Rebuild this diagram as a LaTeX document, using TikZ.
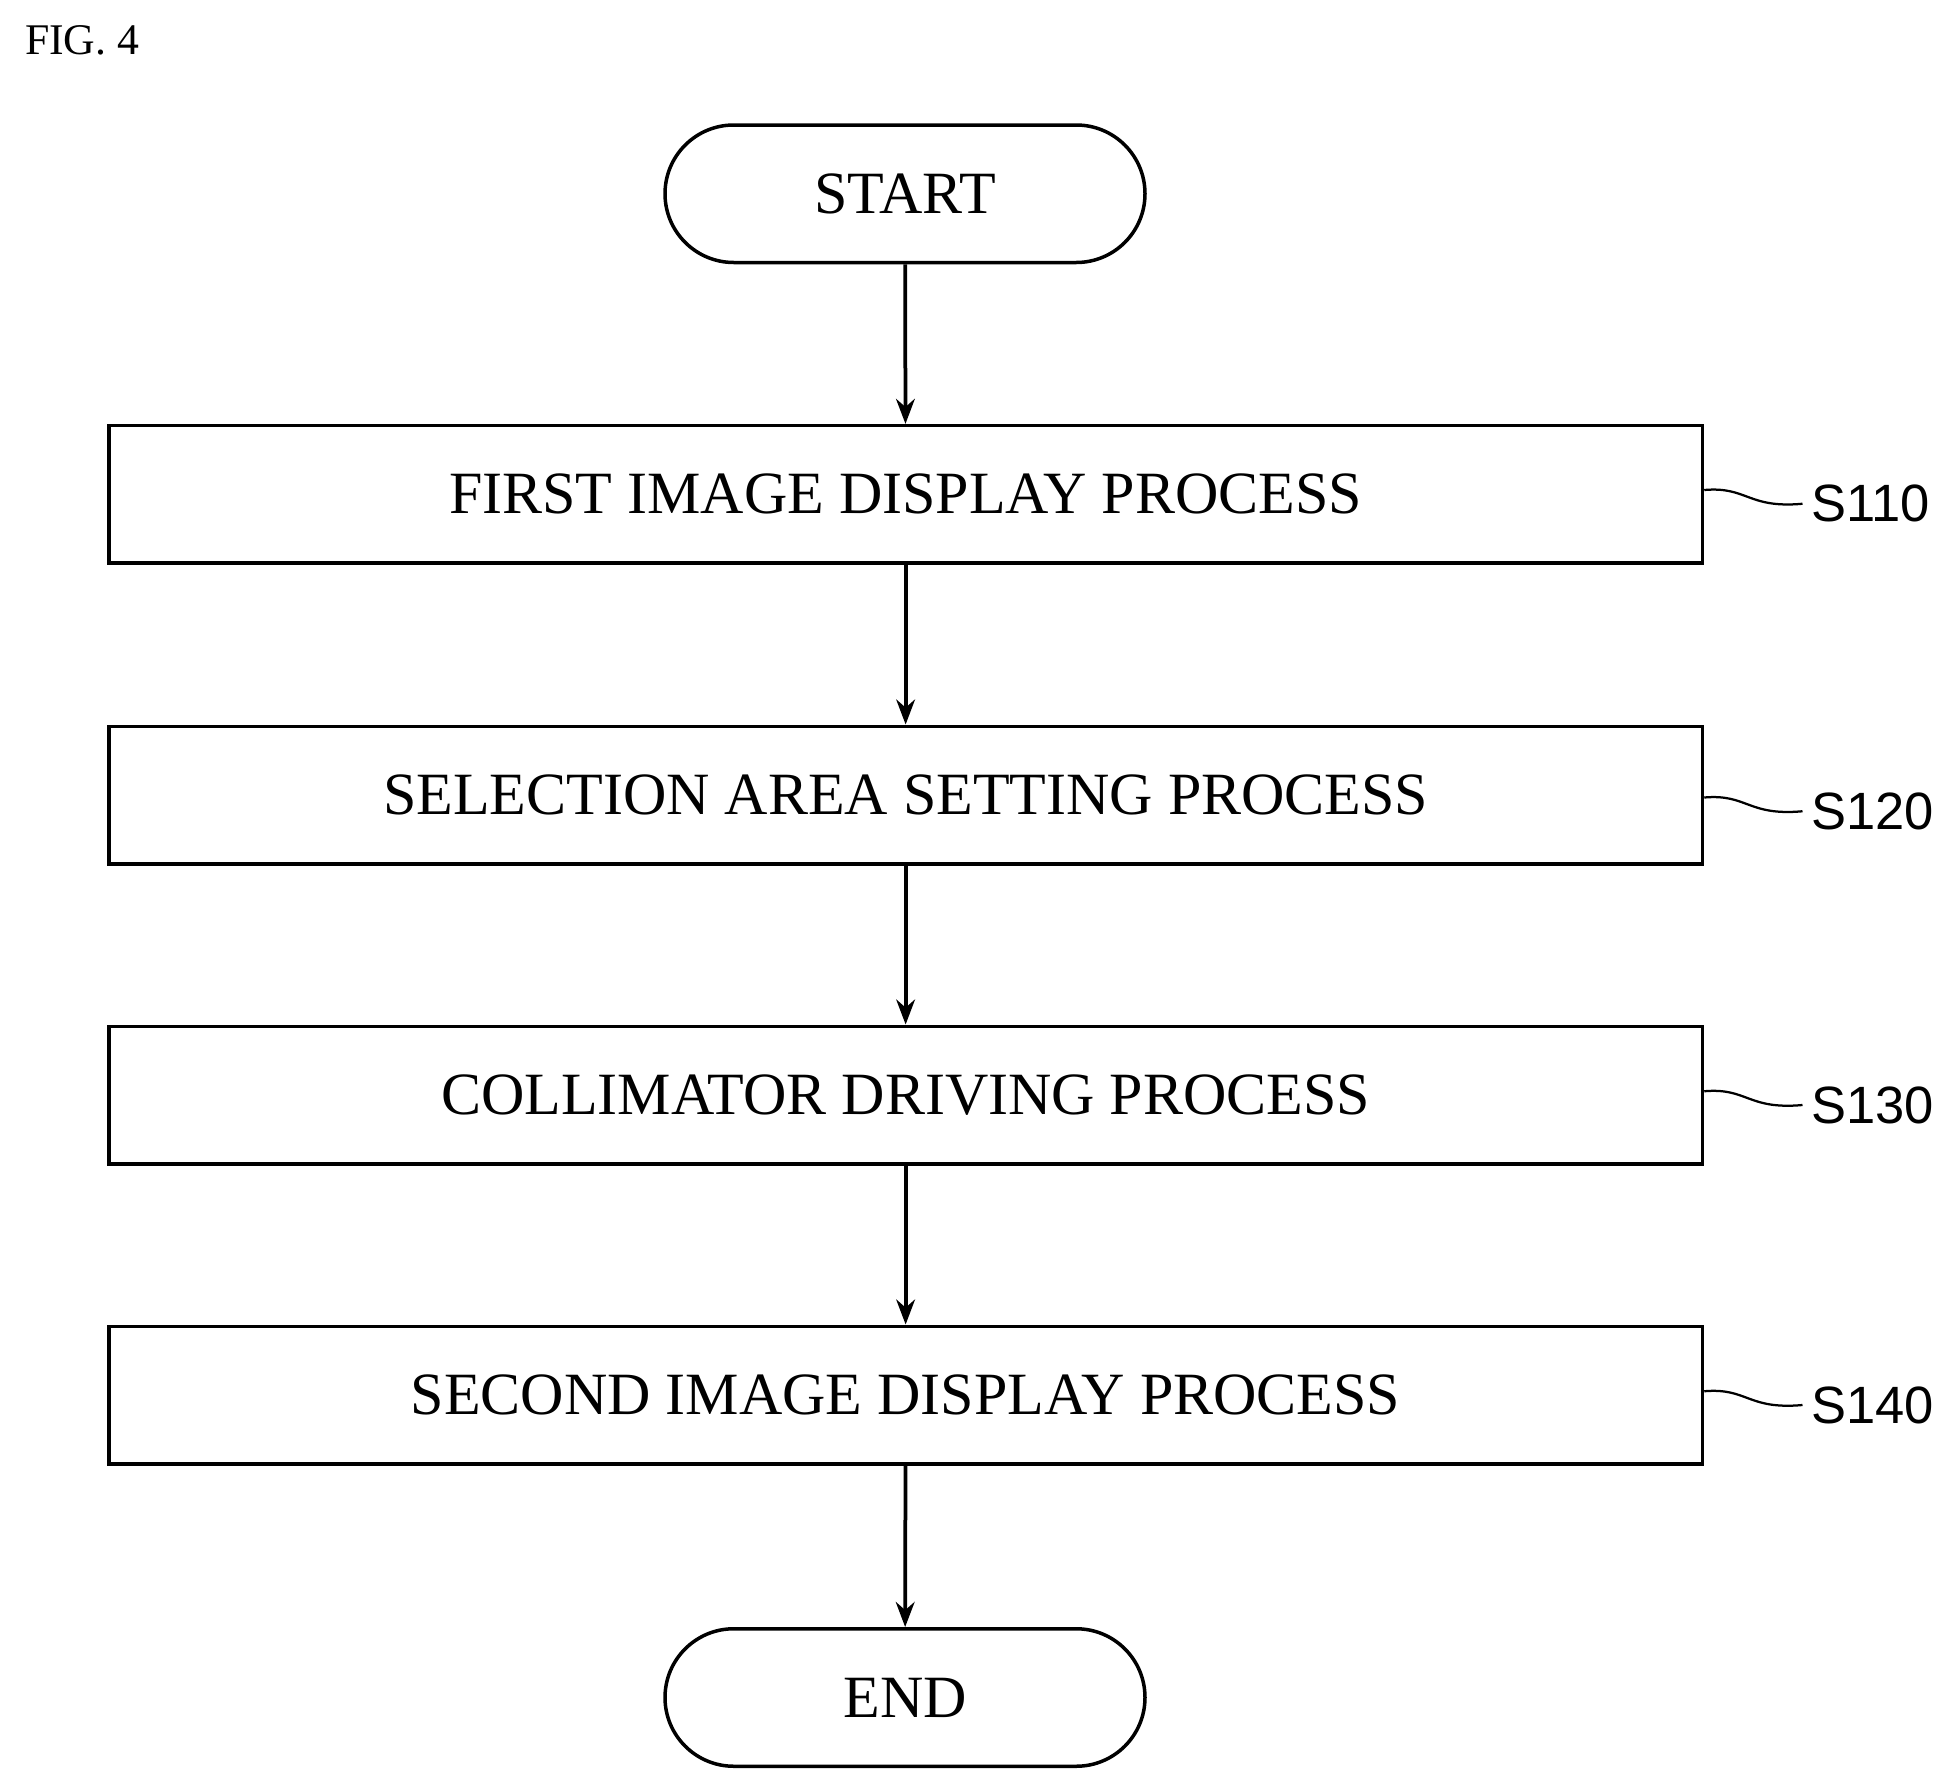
\documentclass[tikz,border=0pt]{standalone}
\usepackage{fontspec}
\setmainfont{Liberation Serif}
\setsansfont{Liberation Sans}
\usetikzlibrary{shapes.misc,arrows.meta}
\begin{document}
\begin{tikzpicture}[x=0.5pt,y=-0.5pt,
  box/.style={draw,line width=1.4pt,minimum width=637.5pt,minimum height=55pt,inner sep=0pt,font=\fontsize{24}{27}\selectfont},
  term/.style={draw,line width=1.4pt,rounded rectangle,minimum width=192pt,minimum height=55pt,inner sep=0pt,font=\fontsize{24}{27}\selectfont},
  arr/.style={line width=1.5pt,-{Stealth[length=10pt,width=7.5pt]}},
  lab/.style={font=\sffamily\fontsize{21}{24}\selectfont,anchor=west},
  sq/.style={line width=0.9pt}]
\useasboundingbox (0,0) rectangle (1560,1424);
\node[anchor=west,font=\fontsize{17.5}{20}\selectfont] (fig) at (13,32) {FIG. 4};
\node[term] (start) at (724,155) {START};
\node[box] (b1) at (724.5,395.5) {FIRST IMAGE DISPLAY PROCESS};
\node[box] (b2) at (724.5,636) {SELECTION AREA SETTING PROCESS};
\node[box] (b3) at (724.5,876) {COLLIMATOR DRIVING PROCESS};
\node[box] (b4) at (724.5,1116) {SECOND IMAGE DISPLAY PROCESS};
\node[term] (end) at (724,1358) {END};
\draw[arr] (start) -- (b1);
\draw[arr] (b1) -- (b2);
\draw[arr] (b2) -- (b3);
\draw[arr] (b3) -- (b4);
\draw[arr] (b4) -- (end);
\foreach \n/\y/\t in {b1/395/S110,b2/641/S120,b3/876/S130,b4/1116/S140}{
  \node[lab] (l\t) at (1442,\y+8) {\t};
  \draw[sq] (\n.east |- 0,\y-3) .. controls (1398,\y-6) and (1398,\y+12) .. (l\t.west);
}
\end{tikzpicture}
\end{document}
